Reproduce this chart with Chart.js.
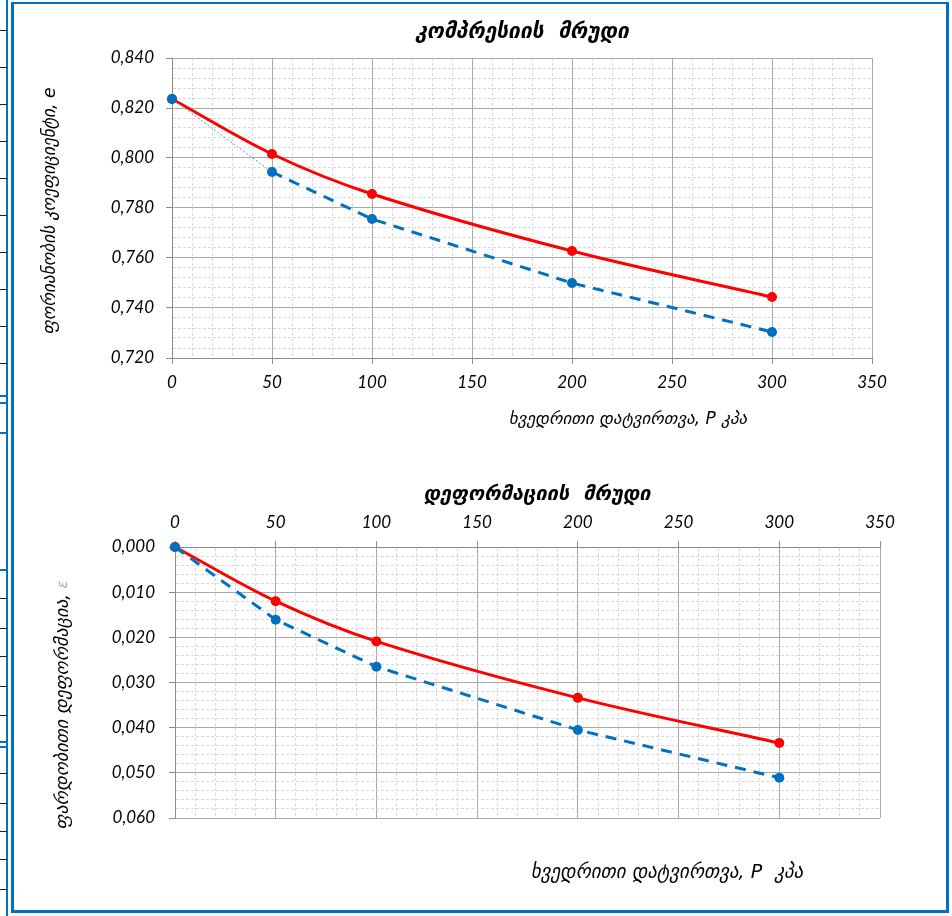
<!DOCTYPE html>
<html>
<head>
<meta charset="utf-8">
<script src="https://cdn.jsdelivr.net/npm/chart.js@4/dist/chart.umd.min.js"></script>
<style>
  html, body { margin: 0; padding: 0; background: #fff; }
  body { width: 952px; height: 916px; position: relative; overflow: hidden; }
  canvas { position: absolute; left: 0; }
  #compression { top: 0; }
  #deformation { top: 460px; }
  .frame { position: absolute; left: 11px; top: 2px; width: 932px; height: 906px;
           border: 3px solid #0070c0; border-top-width: 2px; }
  .rule { position: absolute; background: #0070c0; }
  .tick { position: absolute; left: 0; width: 7px; height: 1px; background: #222; }
</style>
</head>
<body>
<div class="frame"></div>
<div class="rule" style="left:6px;top:0;width:2px;height:916px"></div>
<div id="side"></div>
<canvas id="compression" width="952" height="460"></canvas>
<canvas id="deformation" width="952" height="456"></canvas>
<script>
// Applied load steps, kPa
const loads = [0, 50, 100, 200, 300];
// Void ratio e at each load step
const voidRatioRed = [0.8236, 0.8016, 0.7856, 0.7628, 0.7444];
const voidRatioBlue = [0.8236, 0.7944, 0.7756, 0.7500, 0.7304];
// Relative strain at each load step
const strainRed = [0, 0.0120, 0.0209, 0.0334, 0.0434];
const strainBlue = [0, 0.0161, 0.0265, 0.0405, 0.0511];

// Axis ranges and steps (major / minor)
const loadAxis = { min: 0, max: 350, major: 50, minor: 10 };
const voidAxis = { min: 0.72, max: 0.84, major: 0.02, minor: 0.004 };
const strainAxis = { min: 0, max: 0.06, major: 0.01, minor: 0.002 };

// Captions
const titleCompression = 'კომპრესიის  მრუდი';
const titleDeformation = 'დეფორმაციის  მრუდი';
const loadTitle = 'ხვედრითი დატვირთვა, P კპა';
const loadTitle2 = 'ხვედრითი დატვირთვა, P  კპა';
const voidTitle = 'ფორიანობის კოეფიციენტი, e';
const strainTitle = 'ფარდობითი დეფორმაცია, ';
const strainSymbol = 'ε';

// Decorative side column of the page
(function () {
  const side = document.getElementById('side');
  const add = (cls, style) => { const d = document.createElement('div'); d.className = cls; d.setAttribute('style', style); side.appendChild(d); };
  [30, 67, 104, 141, 178, 215, 252, 289, 326, 363, 598, 628, 656, 686, 715, 773, 803, 831, 859, 889]
    .forEach(y => add('tick', 'top:' + y + 'px'));
  [395, 402, 432, 569, 741, 746].forEach(y => add('rule', 'left:0;width:8px;height:2px;top:' + y + 'px'));
})();

const RED = '#ff0000';
const BLUE = '#0070c0';
const tickFont = { family: 'Lato', style: 'italic', size: 17 };

function isMajor(v, axis) {
  const r = v / axis.major;
  return Math.abs(r - Math.round(r)) < 1e-6;
}

function fmt3(v) { return v.toFixed(3).replace('.', ','); }

function scaleOptions(axis, extra) {
  const majorOf = c => c.tick && isMajor(c.tick.value, axis);
  return Object.assign({
    type: 'linear',
    min: axis.min,
    max: axis.max,
    ticks: {
      stepSize: axis.minor,
      autoSkip: false,
      maxRotation: 0,
      color: '#000',
      font: tickFont,
      padding: 8,
      callback: v => (isMajor(v, axis) ? String(v) : '')
    },
    grid: {
      color: c => (majorOf(c) ? '#aaaaaa' : '#d9d9d9'),
      lineWidth: 1,
      tickLength: 6,
      tickColor: c => (majorOf(c) ? '#8c8c8c' : 'rgba(0,0,0,0)')
    },
    border: {
      color: '#8c8c8c',
      width: 1,
      dash: c => (majorOf(c) ? [] : [3, 2])
    }
  }, extra);
}

function valueScale(axis, extra, pad) {
  const s = scaleOptions(axis, extra);
  s.ticks.callback = v => (isMajor(v, axis) ? fmt3(v) : '');
  s.ticks.padding = pad;
  return s;
}

// Draws chart and axis captions as canvas text
const captions = {
  id: 'captions',
  afterDraw(chart, args, opts) {
    const ctx = chart.ctx;
    (opts.items || []).forEach(it => {
      ctx.save();
      ctx.translate(it.x, it.y);
      if (it.rotate) ctx.rotate(it.rotate);
      ctx.textBaseline = 'middle';
      ctx.textAlign = 'left';
      let total = 0;
      it.parts.forEach(p => { ctx.font = p.font || it.font; total += ctx.measureText(p.text).width; });
      let x = -total / 2;
      it.parts.forEach(p => {
        ctx.font = p.font || it.font;
        ctx.fillStyle = p.color || '#000';
        ctx.fillText(p.text, x, 0);
        x += ctx.measureText(p.text).width;
      });
      ctx.restore();
    });
  }
};

const pts = (xs, ys) => xs.map((x, i) => ({ x, y: ys[i] }));
const firstSeg = c => c.p0DataIndex === 0;

function redSeries(values) {
  return {
    data: pts(loads, values),
    borderColor: RED, backgroundColor: RED,
    borderWidth: 3, pointRadius: 5, pointBorderWidth: 0,
    tension: 0.35, order: 2, clip: false
  };
}
function blueSeries(values, thinFirst) {
  const ds = {
    data: pts(loads, values),
    borderColor: BLUE, backgroundColor: BLUE,
    borderWidth: 3, borderDash: [11, 8], pointRadius: 5, pointBorderWidth: 0,
    tension: 0, order: 1, clip: false
  };
  if (thinFirst) {
    ds.segment = {
      borderWidth: c => (firstSeg(c) ? 1 : undefined),
      borderDash: c => (firstSeg(c) ? [2, 2] : undefined),
      borderColor: c => (firstSeg(c) ? '#5b9bd5' : undefined)
    };
  }
  return ds;
}

new Chart(document.getElementById('compression'), {
  type: 'line',
  data: { datasets: [redSeries(voidRatioRed), blueSeries(voidRatioBlue, true)] },
  options: {
    responsive: false,
    animation: false,
    layout: { padding: { top: 58, right: 80, left: 0, bottom: 0 } },
    scales: {
      x: scaleOptions(loadAxis, { position: 'bottom', afterFit: s => { s.height = 102; } }),
      y: valueScale(voidAxis, { position: 'left', afterFit: s => { s.width = 172; } }, 12)
    },
    plugins: {
      legend: { display: false },
      tooltip: { enabled: false },
      captions: {
        items: [
          { x: 522, y: 33, font: 'italic bold 21px "DejaVu Sans"', parts: [{ text: titleCompression }] },
          { x: 628, y: 420, font: 'italic 17px "DejaVu Sans"', parts: [{ text: loadTitle }] },
          { x: 51, y: 211, rotate: -Math.PI / 2, font: 'italic 17.3px "DejaVu Sans"', parts: [{ text: voidTitle }] }
        ]
      }
    }
  },
  plugins: [captions]
});

new Chart(document.getElementById('deformation'), {
  type: 'line',
  data: { datasets: [redSeries(strainRed), blueSeries(strainBlue, false)] },
  options: {
    responsive: false,
    animation: false,
    layout: { padding: { top: 0, right: 72, left: 0, bottom: 98 } },
    scales: {
      x: scaleOptions(loadAxis, { position: 'top', afterFit: s => { s.height = 87; } }),
      y: valueScale(strainAxis, { position: 'left', reverse: true, afterFit: s => { s.width = 175; } }, 14)
    },
    plugins: {
      legend: { display: false },
      tooltip: { enabled: false },
      captions: {
        items: [
          { x: 537, y: 35, font: 'italic bold 20px "DejaVu Sans"', parts: [{ text: titleDeformation }] },
          { x: 667, y: 413, font: 'italic 19px "DejaVu Sans"', parts: [{ text: loadTitle2 }] },
          { x: 63, y: 245, rotate: -Math.PI / 2, font: 'italic 18px "DejaVu Sans"',
            parts: [{ text: strainTitle }, { text: strainSymbol, color: '#a6a6a6', font: 'italic 14px "DejaVu Sans"' }] }
        ]
      }
    }
  },
  plugins: [captions]
});
</script>
</body>
</html>
